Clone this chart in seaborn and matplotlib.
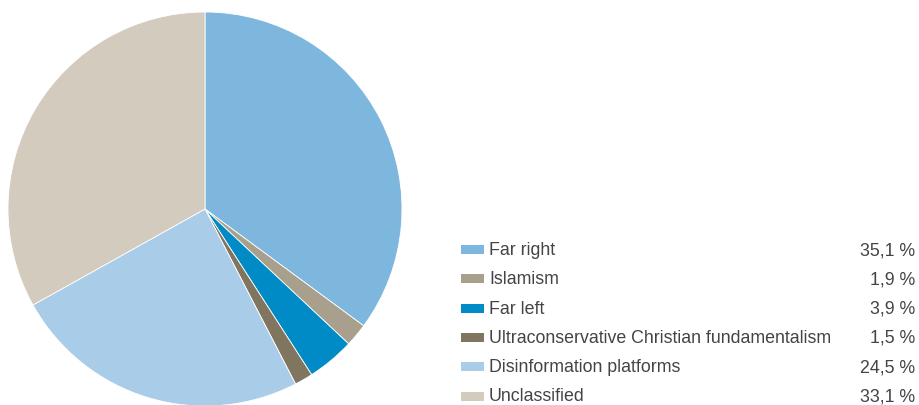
import matplotlib
matplotlib.use("Agg")
import matplotlib.pyplot as plt
from matplotlib.patches import Rectangle
import seaborn as sns

categories = ["Far right", "Islamism", "Far left",
              "Ultraconservative Christian fundamentalism",
              "Disinformation platforms", "Unclassified"]
shares = [35.1, 1.9, 3.9, 1.5, 24.5, 33.1]
share_labels = ["35,1 %", "1,9 %", "3,9 %", "1,5 %", "24,5 %", "33,1 %"]
colors = sns.color_palette(["#7db7de", "#a8a08c", "#008bc6",
                            "#80765f", "#a9cce8", "#d4cbbf"])

sns.set_theme(style="white")
plt.rcParams["font.family"] = ["Liberation Sans", "DejaVu Sans"]

W, H = 919, 406
fig = plt.figure(figsize=(W / 100, H / 100), dpi=100)

# pie: centre (205, 210), radius 197 px
r = 197
ax = fig.add_axes([(205 - r) / W, (H - 210 - r) / H, 2 * r / W, 2 * r / H])
ax.pie(shares, colors=colors, startangle=90, counterclock=False,
       wedgeprops=dict(edgecolor="white", linewidth=0.6))
ax.set_xlim(-1, 1)
ax.set_ylim(-1, 1)
ax.set_aspect("equal")
ax.axis("off")

# legend table
lax = fig.add_axes([0, 0, 1, 1])
lax.set_xlim(0, W)
lax.set_ylim(H, 0)
lax.axis("off")
y0, dy = 250.5, 29.3
for i, (name, lab, c) in enumerate(zip(categories, share_labels, colors)):
    y = y0 + i * dy
    lax.add_patch(Rectangle((461, y - 4.5), 23, 9, color=c, lw=0))
    lax.text(489, y, name, va="center", ha="left", fontsize=12.8, color="#444444")
    lax.text(915, y, lab, va="center", ha="right", fontsize=12.8, color="#444444")

fig.savefig("out.png", dpi=100)
